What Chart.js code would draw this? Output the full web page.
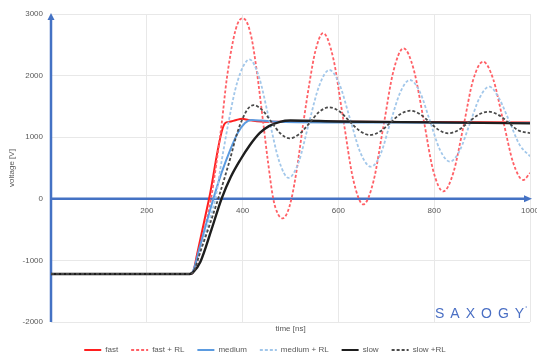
<!DOCTYPE html>
<html>
<head>
<meta charset="utf-8">
<script src="https://cdn.jsdelivr.net/npm/chart.js@4.4.1/dist/chart.umd.min.js"></script>
<style>
html,body{margin:0;padding:0;background:#fff;}
#wrap{width:537px;height:356px;}
</style>
</head>
<body>
<div id="wrap"><canvas id="c" width="537" height="356"></canvas></div>
<script>
// ---- data (time in ns, voltage in V) ----
const seriesNames = ['fast', 'fast + RL', 'medium', 'medium + RL', 'slow', 'slow +RL'];
const xTicks = [200, 400, 600, 800, 1000];
const yTicks = [-2000, -1000, 0, 1000, 2000, 3000];

const tFast = [0, 290, 297, 305, 330, 363, 372, 385, 399, 412, 430, 470, 600, 800, 1000];
const vFast = [-1220, -1220, -1180, -900, 0, 1225, 1250, 1275, 1300, 1280, 1260, 1250, 1250, 1245, 1240];

const tFastRL = [0, 290, 298, 307, 320, 334, 345, 356, 367, 381, 390, 399, 408, 419, 430, 442, 453, 464, 474, 484, 493, 502, 514, 526, 540, 552, 568, 589, 610, 631, 652, 673, 694, 715, 736, 757, 778, 798, 819, 840, 861, 881, 902, 923, 944, 965, 986, 1000];
const vFastRL = [-1220, -1220, -1190, -990, -520, 0, 560, 1200, 1950, 2600, 2850, 2930, 2880, 2600, 2050, 1300, 600, 0, -250, -317, -230, 0, 520, 1190, 1900, 2400, 2690, 2290, 1300, 310, -90, 277, 1177, 2077, 2443, 2106, 1281, 456, 120, 425, 1173, 1921, 2226, 1947, 1265, 583, 305, 420];

const tMedium = [0, 290, 297, 310, 339, 356, 374, 390, 405, 418, 440, 470, 600, 800, 1000];
const vMedium = [-1220, -1220, -1170, -800, 0, 420, 792, 1070, 1230, 1280, 1270, 1250, 1240, 1235, 1230];

const tMediumRL = [0, 290, 297, 310, 325, 343, 357, 372, 384, 395, 405, 414, 434, 455, 476, 496, 517, 538, 560, 581, 602, 624, 646, 668, 688, 708, 729, 749, 770, 791, 812, 833, 853, 874, 895, 915, 936, 957, 978, 1000];
const vMediumRL = [-1220, -1220, -1200, -900, -480, 0, 650, 1300, 1750, 2037, 2200, 2265, 1985, 1302, 619, 340, 594, 1215, 1836, 2091, 1863, 1306, 749, 521, 725, 1225, 1725, 1929, 1737, 1266, 795, 603, 779, 1211, 1643, 1820, 1620, 1255, 880, 690];

const tSlow = [0, 290, 297, 312, 335, 356, 375, 395, 415, 436, 455, 478, 500, 600, 800, 1000];
const vSlow = [-1220, -1220, -1190, -1020, -500, 0, 350, 630, 870, 1070, 1180, 1250, 1270, 1255, 1240, 1225];

const tSlowRL = [0, 290, 298, 310, 330, 349, 362, 374, 388, 401, 412, 423, 441, 460, 479, 498, 519, 540, 560, 581, 602, 623, 645, 666, 687, 708, 729, 750, 770, 790, 810, 829, 850, 871, 892, 913, 934, 955, 975, 1000];
const vSlowRL = [-1220, -1220, -1180, -900, -450, 0, 330, 650, 1050, 1320, 1470, 1520, 1440, 1250, 1060, 982, 1055, 1233, 1412, 1485, 1420, 1260, 1100, 1036, 1093, 1233, 1373, 1430, 1376, 1246, 1116, 1063, 1113, 1238, 1363, 1414, 1363, 1238, 1113, 1065];

// ---- helpers ----
const pts = (t, v) => t.map((x, i) => ({x: x, y: v[i]}));
const FONT = '"Liberation Sans", Arial, sans-serif';
const AXIS_BLUE = '#4472c4';

const styles = [
  {color: '#ff1f1f', width: 2, dash: []},
  {color: '#ff6066', width: 1.8, dash: [3, 2]},
  {color: '#5b9be0', width: 2, dash: []},
  {color: '#a2c7ea', width: 1.8, dash: [3, 2]},
  {color: '#1e1e1e', width: 2.4, dash: []},
  {color: '#4a4a4a', width: 1.8, dash: [3, 2]}
];
const seriesPts = [
  pts(tFast, vFast), pts(tFastRL, vFastRL), pts(tMedium, vMedium),
  pts(tMediumRL, vMediumRL), pts(tSlow, vSlow), pts(tSlowRL, vSlowRL)
];

const datasets = seriesNames.map((name, i) => ({
  label: name,
  data: seriesPts[i],
  borderColor: styles[i].color,
  backgroundColor: styles[i].color,
  borderWidth: styles[i].width,
  borderDash: styles[i].dash,
  pointRadius: 0,
  cubicInterpolationMode: 'monotone',
  fill: false,
  order: seriesNames.length - i
}));

const axisPlugin = {
  id: 'axisArrows',
  beforeDatasetsDraw(chart) {
    const ctx = chart.ctx;
    const area = chart.chartArea;
    const y0 = chart.scales.y.getPixelForValue(0);
    const x0 = chart.scales.x.getPixelForValue(0);
    const xEnd = chart.scales.x.getPixelForValue(1000);
    ctx.save();
    ctx.strokeStyle = AXIS_BLUE;
    ctx.fillStyle = AXIS_BLUE;
    ctx.lineWidth = 2.5;
    ctx.beginPath();
    ctx.moveTo(x0, area.bottom);
    ctx.lineTo(x0, area.top + 4);
    ctx.stroke();
    ctx.beginPath();
    ctx.moveTo(x0, area.top - 1);
    ctx.lineTo(x0 - 3.5, area.top + 6);
    ctx.lineTo(x0 + 3.5, area.top + 6);
    ctx.closePath();
    ctx.fill();
    ctx.beginPath();
    ctx.moveTo(x0, y0);
    ctx.lineTo(xEnd - 4, y0);
    ctx.stroke();
    ctx.beginPath();
    ctx.moveTo(xEnd + 2, y0);
    ctx.lineTo(xEnd - 6, y0 - 3.5);
    ctx.lineTo(xEnd - 6, y0 + 3.5);
    ctx.closePath();
    ctx.fill();
    ctx.restore();
  },
  afterDraw(chart) {
    const ctx = chart.ctx;
    const area = chart.chartArea;
    ctx.save();
    ctx.fillStyle = '#4a6fc4';
    ctx.font = '14px ' + FONT;
    ctx.textBaseline = 'alphabetic';
    ctx.textAlign = 'left';
    const word = 'SAXOGY';
    let x = area.right - 95;
    const y = area.bottom - 4;
    for (const ch of word) {
      ctx.fillText(ch, x, y);
      x += ctx.measureText(ch).width + 6;
    }
    ctx.font = '5px ' + FONT;
    ctx.fillText('\u00B0', x - 5, y - 8);
    ctx.restore();
  }
};

new Chart(document.getElementById('c'), {
  type: 'line',
  data: {datasets: datasets},
  plugins: [axisPlugin],
  options: {
    responsive: false,
    animation: false,
    devicePixelRatio: 1,
    layout: {padding: {top: 14, right: 7, left: 0, bottom: -8}},
    plugins: {
      tooltip: {enabled: false},
      legend: {
        position: 'bottom',
        labels: {
          usePointStyle: true,
          pointStyleWidth: 17,
          boxHeight: 8,
          padding: 13,
          color: '#595959',
          font: {family: FONT, size: 8},
          generateLabels: (chart) => chart.data.datasets.map((ds, i) => ({
            text: ds.label,
            fillStyle: 'rgba(0,0,0,0)',
            strokeStyle: ds.borderColor,
            lineWidth: 2,
            lineDash: ds.borderDash,
            pointStyle: 'line',
            hidden: false,
            datasetIndex: i,
            fontColor: '#595959'
          }))
        }
      }
    },
    scales: {
      x: {
        type: 'linear',
        position: {y: 0},
        min: 0,
        max: 1000,
        afterBuildTicks: (scale) => { scale.ticks = [0].concat(xTicks).map(v => ({value: v})); },
        afterFit: (scale) => { scale.paddingRight = 0; scale.paddingLeft = 0; },
        ticks: {
          padding: 7,
          maxRotation: 0,
          color: '#595959',
          font: {family: FONT, size: 8},
          callback: (v) => (v === 0 ? '' : String(v))
        },
        grid: {color: '#e8e8e8', lineWidth: 1, drawTicks: false},
        border: {display: false}
      },
      x2: {
        type: 'linear',
        position: 'bottom',
        min: 0,
        max: 1000,
        afterFit: (scale) => { scale.height = 11; scale.paddingRight = 0; scale.paddingLeft = 0; },
        ticks: {display: false},
        grid: {display: false, drawTicks: false},
        border: {display: false},
        title: {display: true, text: 'time [ns]', color: '#595959', font: {family: FONT, size: 8, lineHeight: 1}, padding: {top: 0, bottom: 0}}
      },
      y: {
        type: 'linear',
        position: 'left',
        min: -2000,
        max: 3000,
        afterBuildTicks: (scale) => { scale.ticks = yTicks.map(v => ({value: v})); },
        afterFit: (scale) => { scale.width = 51; },
        ticks: {
          padding: 8,
          color: '#595959',
          font: {family: FONT, size: 8},
          callback: (v) => String(v)
        },
        grid: {color: '#e8e8e8', lineWidth: 1, drawTicks: false},
        border: {display: false},
        title: {display: true, text: 'voltage [V]', color: '#595959', font: {family: FONT, size: 8, lineHeight: 1.2}, padding: {top: 7, bottom: 0}}
      }
    }
  }
});
</script>
</body>
</html>
